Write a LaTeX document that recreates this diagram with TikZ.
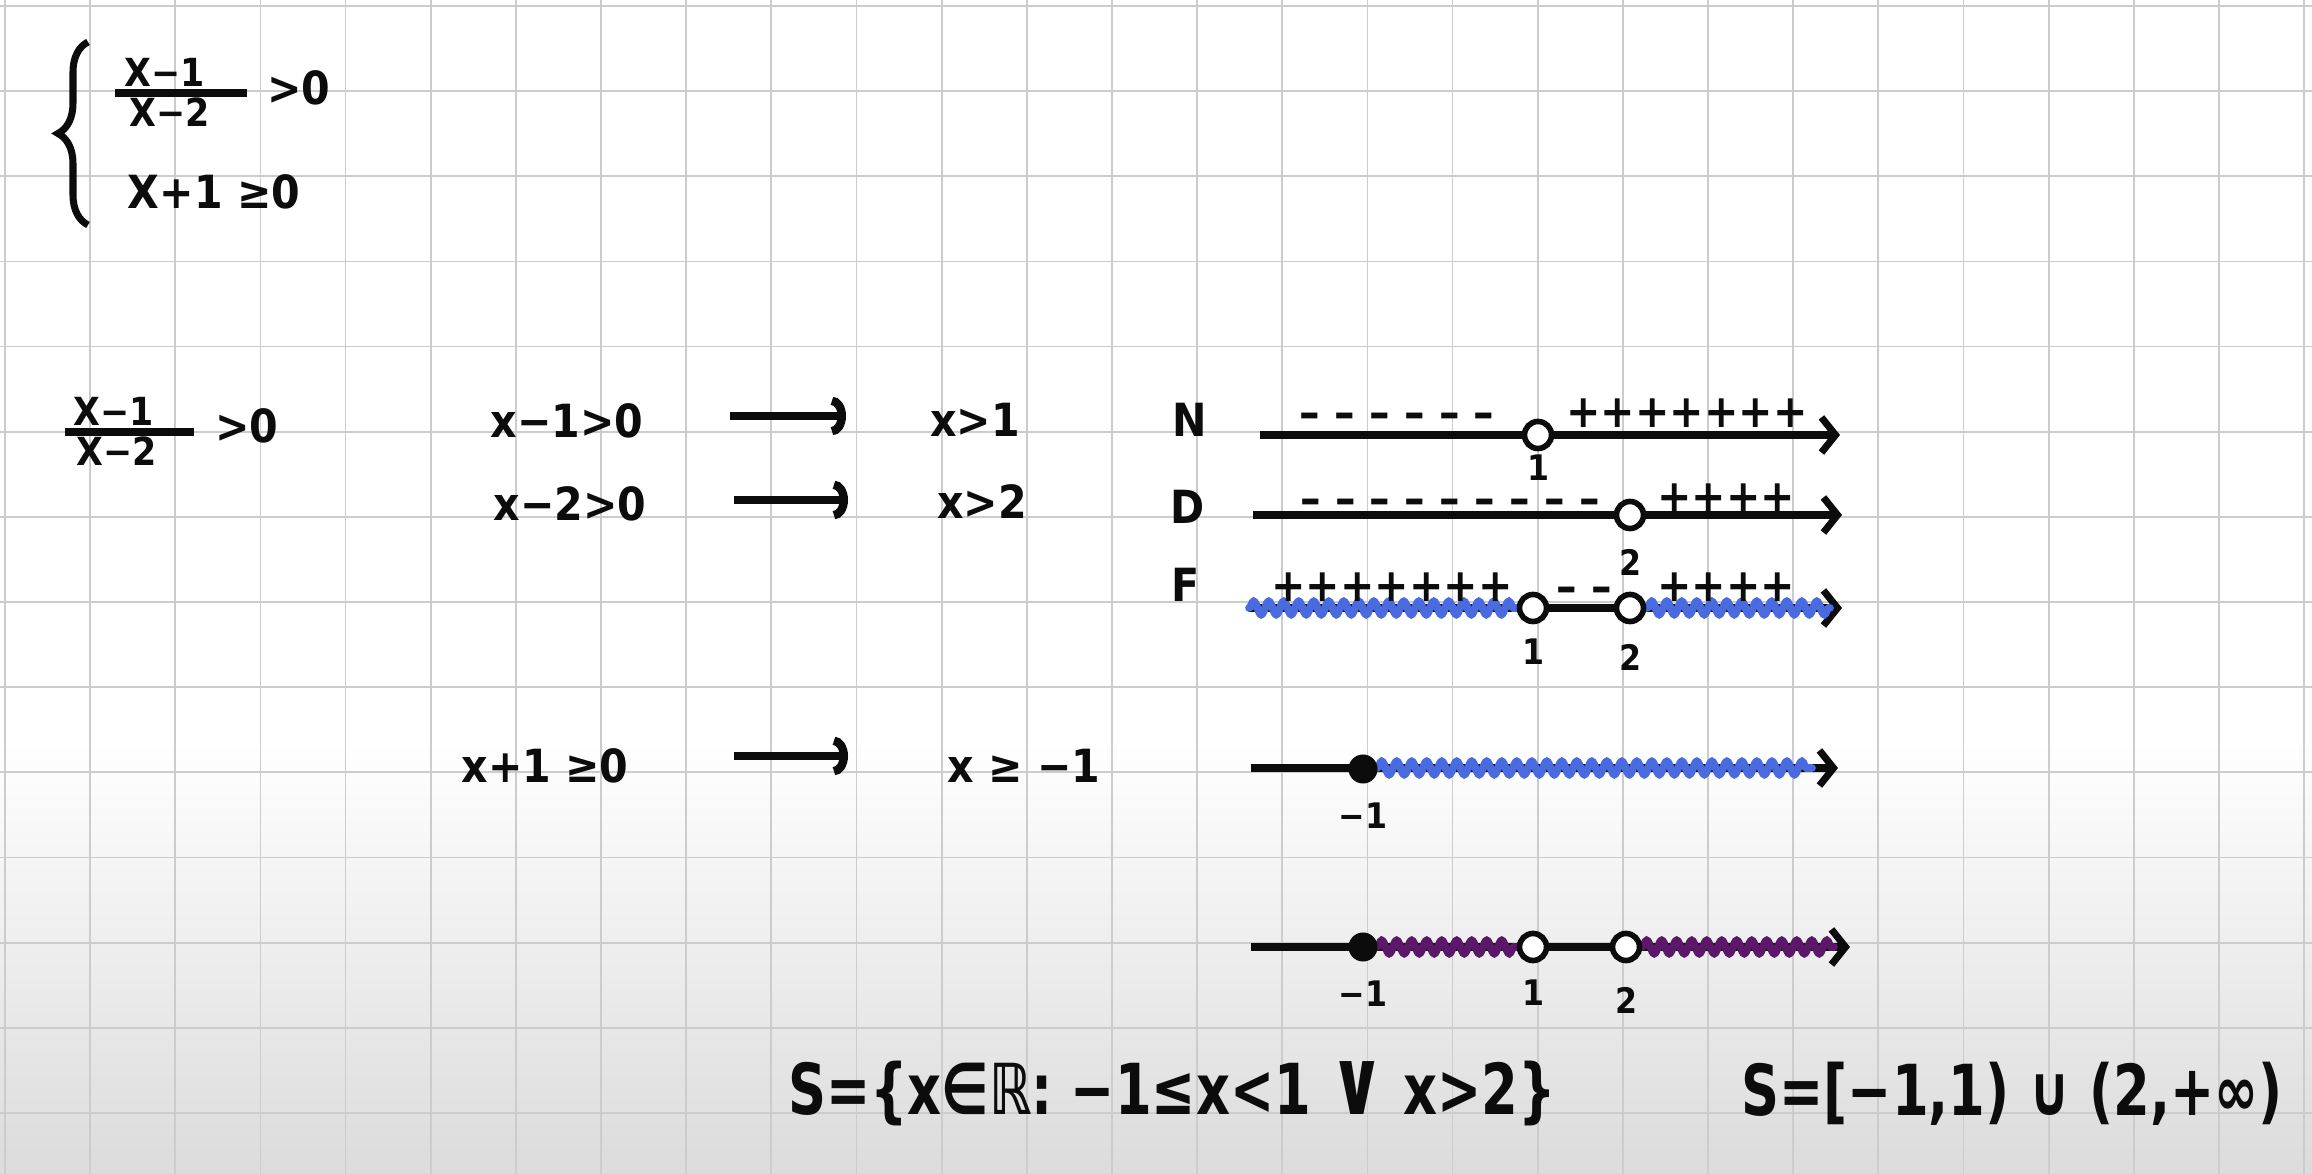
\documentclass[tikz,border=0pt]{standalone}
\usepackage{fontspec}
\usepackage{tikz}
\usetikzlibrary{arrows.meta, positioning, calc, decorations.pathmorphing, decorations.pathreplacing}
\newfontfamily\inkfont[FakeStretch=0.9]{DejaVu Sans}
\newfontfamily\inkwide[FakeStretch=0.75]{DejaVu Sans}
\definecolor{myink}{RGB}{12,12,12}
\definecolor{myblue}{RGB}{74,106,224}
\definecolor{mypurple}{RGB}{92,24,104}
\definecolor{mygrid}{RGB}{204,204,204}
\tikzset{
  txt/.style={font=\inkfont\bfseries\fontsize{13}{15}\selectfont, text=myink, inner sep=1pt},
  frac/.style={font=\inkfont\bfseries\fontsize{11}{13}\selectfont, text=myink, inner sep=0pt,
    text height=0.73em, text depth=0pt},
  bigtxt/.style={font=\inkwide\bfseries\fontsize{20}{24}\selectfont, text=myink, inner sep=1pt},
  lbl/.style={font=\inkfont\bfseries\fontsize{10}{12}\selectfont, text=myink, inner sep=0pt,
    text height=0.73em, text depth=0pt},
  axis/.style={-{Straight Barb[length=4pt,width=10pt]}, line width=2pt, color=myink},
  implies/.style={-{Arc Barb[length=4pt,width=11pt]}, line width=2.4pt, color=myink},
  opendot/.style={circle, draw=myink, fill=white, line width=1.6pt, minimum size=0.27cm, inner sep=0pt},
  fulldot/.style={circle, fill=myink, minimum size=0.29cm, inner sep=0pt},
  wave/.style={decorate, decoration={snake, amplitude=0.065cm, segment length=0.15cm}, line width=2.2pt, line cap=round},
  line/.style={line width=2pt, color=myink}
}

\begin{document}
\begin{tikzpicture}[x=0.01cm, y=-0.01cm]
  \useasboundingbox (0,0) rectangle (2312,1174);
  \fill[white] (0,0) rectangle (2312,1174);
  \shade[top color=white, bottom color=black!14] (0,740) rectangle (2312,1174);
  \foreach \k in {0,...,27}
    \draw[mygrid, line width=0.5pt] ({5+85.15*\k},0) -- ({5+85.15*\k},1174);
  \foreach \k in {0,...,13}
    \draw[mygrid, line width=0.5pt] (0,{6+85.15*\k}) -- (2312,{6+85.15*\k});

  % system
  \draw[line, decorate, decoration={brace, amplitude=0.3cm}] (88,225) -- (88,42);
  \coordinate (sysbar) at (181,93);
  \draw[line] (115,93) -- (247,93);
  \node[frac, above=0.06cm of sysbar, xshift=-0.16cm] (sysnum) {X−1};
  \node[frac, below=0.07cm of sysbar, xshift=-0.11cm] (sysden) {X−2};
  \node[txt] (sysgt)  at (299,88)  {>0};
  \node[txt] (sysb)   at (214,192) {X+1 ≥0};

  % first inequality
  \coordinate (fracbar) at (129,432);
  \draw[line] (65,432) -- (194,432);
  \node[frac, above=0.06cm of fracbar, xshift=-0.15cm] (fracnum) {X−1};
  \node[frac, below=0.07cm of fracbar, xshift=-0.12cm] (fracden) {X−2};
  \node[txt] (fracgt)  at (247,426) {>0};

  \node[txt] (eqa)  at (567,421)  {x−1>0};
  \node[txt] (resa) at (975,420)  {x>1};
  \node[txt] (eqb)  at (570,504)  {x−2>0};
  \node[txt] (resb) at (982,502)  {x>2};
  \node[txt] (eqc)  at (545,766)  {x+1 ≥0};
  \node[txt] (resc) at (1024,766) {x ≥ −1};
  \coordinate (a1) at (730,416);  \coordinate (a2) at (846,416);
  \coordinate (b1) at (734,500);  \coordinate (b2) at (848,500);
  \coordinate (c1) at (734,756);  \coordinate (c2) at (848,756);
  \draw[implies] (a1) -- (a2);
  \draw[implies] (b1) -- (b2);
  \draw[implies] (c1) -- (c2);

  % sign chart
  \node[txt] (nname) at (1190,420) {N};
  \node[txt] (dname) at (1188,507) {D};
  \node[txt] (fname) at (1186,585) {F};
  \coordinate (nL) at (1260,435);  \coordinate (nR) at (1840,435);
  \coordinate (dL) at (1253,515);  \coordinate (dR) at (1842,515);
  \coordinate (fL) at (1249,608);  \coordinate (fR) at (1842,608);
  \draw[axis] (nL) -- (nR);
  \draw[axis] (dL) -- (dR);
  \draw[axis] (fL) -- (fR);
  \draw[wave, myblue] (fL) -- (1518,608);
  \draw[wave, myblue] (1647,608) -- (1830,608);
  \node[opendot] (n1) at (1538,435) {};
  \node[opendot] (d2) at (1630,515) {};
  \node[opendot] (f1) at (1533,608) {};
  \node[opendot] (f2) at (1630,608) {};
  \node[lbl, below=0.03cm of n1] (n1lbl) {1};
  \node[lbl, below=0.18cm of d2] (d2lbl) {2};
  \node[lbl, below=0.14cm of f1] (f1lbl) {1};
  \node[lbl, below=0.2cm of f2] (f2lbl) {2};
  \node[txt] (nminus) at (1397,421) {– – – – – –};
  \node[txt] (nplus)  at (1687,413) {+++++++};
  \node[txt] (dminus) at (1450,507) {– – – – – – – – –};
  \node[txt] (dplus)  at (1726,498) {++++};
  \node[txt] (fplusl) at (1392,587) {+++++++};
  \node[txt] (fminus) at (1584,595) {– –};
  \node[txt] (fplusr) at (1726,587) {++++};

  % x >= -1
  \coordinate (gL) at (1251,768);  \coordinate (gR) at (1838,768);
  \draw[axis] (gL) -- (gR);
  \draw[wave, myblue] (1377,768) -- (1812,768);
  \node[fulldot] (gm1) at (1363,769) {};
  \node[lbl, below=0.18cm of gm1] (gm1lbl) {−1};

  % intersection
  \coordinate (sL) at (1251,947);  \coordinate (sR) at (1850,947);
  \draw[axis] (sL) -- (sR);
  \draw[wave, mypurple] (1377,947) -- (1518,947);
  \draw[wave, mypurple] (1642,947) -- (1834,947);
  \node[fulldot] (sm1) at (1363,947) {};
  \node[opendot] (s1) at (1533,947) {};
  \node[opendot] (s2) at (1626,947) {};
  \node[lbl, below=0.18cm of sm1] (sm1lbl) {−1};
  \node[lbl, below=0.16cm of s1] (s1lbl) {1};
  \node[lbl, below=0.24cm of s2] (s2lbl) {2};

  % solution
  \node[bigtxt] (setbuilder) at (1172,1094) {S=\{x∈ℝ: −1≤x<1 {\fontsize{26}{28}\selectfont ∨} x>2\}};
  \node[bigtxt] (interval)   at (2012,1094) {S=[−1,1) ∪ (2,+∞)};
\end{tikzpicture}
\end{document}
